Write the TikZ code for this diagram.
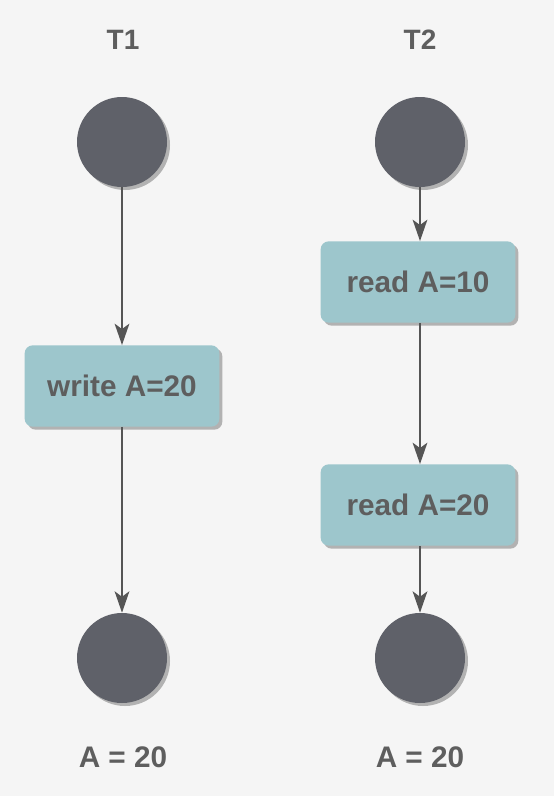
\documentclass[tikz,border=0pt]{standalone}
\usepackage{fontspec}
\setmainfont{Liberation Sans}
\usetikzlibrary{arrows.meta,shadows}

\definecolor{bgcol}{HTML}{F5F5F5}
\definecolor{dotcol}{HTML}{5F6169}
\definecolor{boxcol}{HTML}{9DC6CC}
\definecolor{txtcol}{HTML}{5E5E5E}
\definecolor{linecol}{HTML}{555555}

\tikzset{
  dot/.style={circle,fill=dotcol,minimum size=67.5pt,inner sep=0pt,
    drop shadow={shadow xshift=2.25pt,shadow yshift=-2.25pt,fill=black!30,opacity=1}},
  stepbox/.style={rectangle,rounded corners=6pt,fill=boxcol,minimum width=146pt,
    minimum height=61pt,inner sep=0pt,font=\fontsize{22.3}{24}\selectfont\bfseries,
    text=txtcol,
    drop shadow={shadow xshift=2.25pt,shadow yshift=-2.25pt,fill=black!30,opacity=1}},
  lbl/.style={font=\fontsize{22.3}{24}\selectfont\bfseries,text=txtcol},
  flow/.style={draw=linecol,line width=1.6pt,
    -{Stealth[length=16pt,width=11pt,inset=4pt,fill=linecol]}}
}

\begin{document}
\begin{tikzpicture}[x=0.75pt,y=-0.75pt]

% background
\fill[bgcol] (0,0) rectangle (554,796);
\useasboundingbox (0,0) rectangle (554,796);

% T1 column
\node[lbl,font=\fontsize{21}{24}\selectfont\bfseries] (t1) at (123,40) {T1};
\node[dot] (t1start) at (122,142) {};
\node[stepbox] (write) at (122,386) {write A=20};
\node[dot] (t1end) at (122,658) {};
\node[lbl] (t1res) at (123,757) {A = 20};

% T2 column
\node[lbl,font=\fontsize{21}{24}\selectfont\bfseries] (t2) at (420,40) {T2};
\node[dot] (t2start) at (420,142) {};
\node[stepbox] (readten) at (418,282) {read A=10};
\node[stepbox] (readtwenty) at (418,505) {read A=20};
\node[dot] (t2end) at (420,658) {};
\node[lbl] (t2res) at (420,757) {A = 20};

% Arrows
\draw[flow] (t1start.south) -- (write.north -| t1start.south);
\draw[flow] (write.south -| t1start.south) -- (t1end.north);
\draw[flow] (t2start.south) -- (readten.north -| t2start.south);
\draw[flow] (readten.south -| t2start.south) -- (readtwenty.north -| t2start.south);
\draw[flow] (readtwenty.south -| t2start.south) -- (t2end.north);

\end{tikzpicture}
\end{document}
